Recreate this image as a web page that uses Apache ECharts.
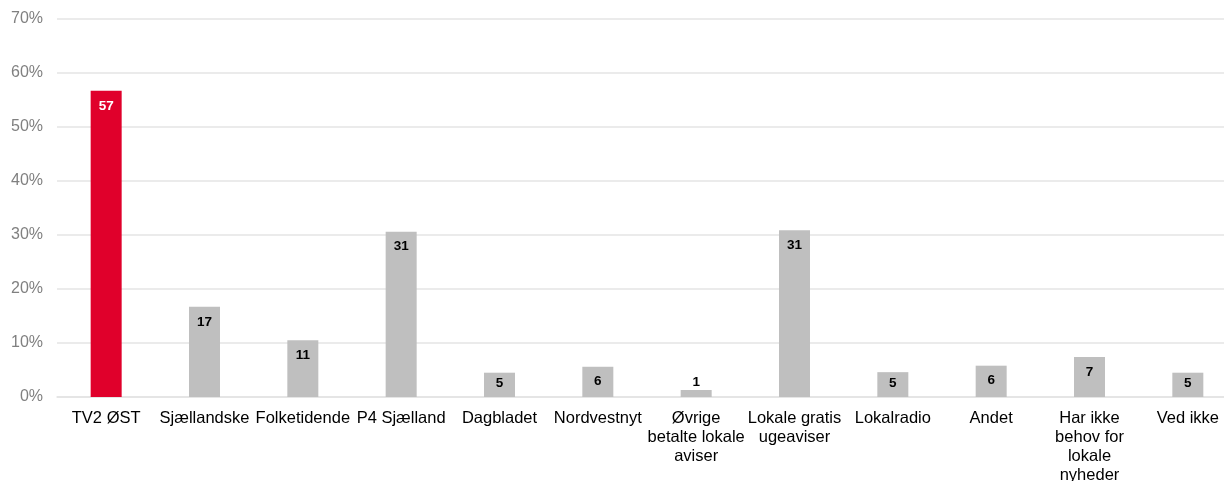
<!DOCTYPE html>
<html>
<head>
<meta charset="utf-8">
<script src="https://cdn.jsdelivr.net/npm/echarts@6/dist/echarts.min.js"></script>
<style>
html,body{margin:0;padding:0;background:#fff;}
#c{width:1224px;height:481px;}
</style>
</head>
<body>
<div id="c"></div>
<script>
const categories = ["TV2 ØST","Sjællandske","Folketidende","P4 Sjælland","Dagbladet","Nordvestnyt","Øvrige\nbetalte lokale\naviser","Lokale gratis\nugeaviser","Lokalradio","Andet","Har ikke\nbehov for\nlokale\nnyheder","Ved ikke"];
const values = [56.7,16.7,10.5,30.6,4.5,5.6,1.3,30.9,4.6,5.8,7.4,4.5];
const highlight = [true,false,false,false,false,false,false,false,false,false,false,false];
const yTicks = {min:0,max:70,interval:10};

const RED = '#E0002B', GRAY = '#BFBFBF';
const FONT = '"Liberation Sans", Arial, sans-serif';

function labelFor(v, hi){
  let pos = 'insideTop', dist = 8;
  if (v < 2) { pos = 'top'; dist = 1; }
  else if (v < 5.2) { dist = 4; }
  return {show:true, position:pos, distance:dist, color: hi ? '#fff' : '#000', fontWeight:'bold', fontSize:13.5, fontFamily:FONT,
          formatter: p => Math.round(p.value)};
}

const chart = echarts.init(document.getElementById('c'), null, {renderer:'canvas'});
chart.setOption({
  animation:false,
  backgroundColor:'#fff',
  grid:{left:57,right:-13,top:19,bottom:84,containLabel:false,outerBoundsMode:'none'},
  xAxis:{type:'category',data:categories,
    axisLine:{show:true,lineStyle:{color:'#e4e4e4',width:1.5}},
    axisTick:{show:false},
    axisLabel:{interval:0,color:'#000',fontSize:16.5,fontFamily:FONT,lineHeight:19,margin:12}},
  yAxis:{type:'value',min:yTicks.min,max:yTicks.max,interval:yTicks.interval,
    axisLine:{show:false},axisTick:{show:false},
    splitLine:{lineStyle:{color:'#e4e4e4',width:1.5}},
    axisLabel:{formatter:'{value}%',color:'#808080',fontSize:16,fontFamily:FONT,margin:14}},
  series:[{type:'bar',barWidth:31,
    data: values.map((v,i)=>({value:v,itemStyle:{color:highlight[i]?RED:GRAY},label:labelFor(v,highlight[i])}))}]
});
</script>
</body>
</html>
